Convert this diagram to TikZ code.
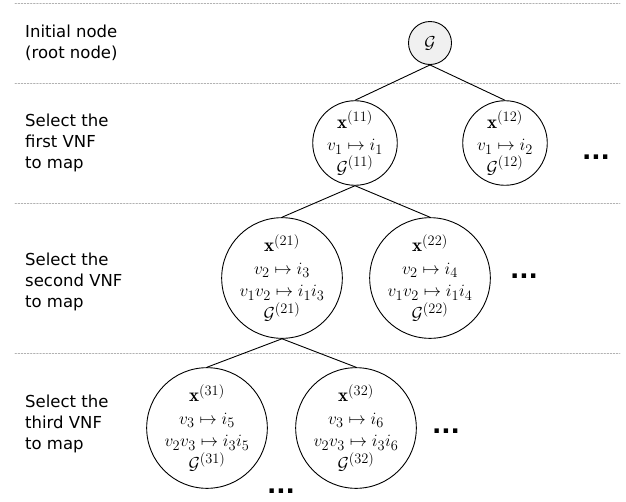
\documentclass[tikz,border=0pt]{standalone}
\usepackage{fontspec}
\newfontfamily\labelfont{DejaVu Sans}
\begin{document}
\begin{tikzpicture}[x=1pt,y=-1pt,line cap=round,
    level/.style={font=\labelfont\fontsize{16.5}{21}\selectfont,align=left,anchor=west,inner sep=0pt},
    state/.style={draw,circle,line width=0.9pt,inner sep=0pt,align=center,font=\fontsize{19}{22.5}\selectfont},
    more/.style={font=\labelfont\bfseries\fontsize{24.5}{24.5}\selectfont,inner sep=0pt},
    sep/.style={gray!60,line width=0.8pt,dash pattern=on 1.5pt off 1.6pt},
    branch/.style={line width=0.9pt}]
    \useasboundingbox (0,0) rectangle (626,501);

    % draw the level separators
    \foreach \y in {3,83,203,353}
        \draw[sep] (15,\y) -- (620,\y);

    % level texts
    \node[level] (lev0) at (25,43) {Initial node\\(root node)};
    \node[level] (lev1) at (25,143) {Select the\\first VNF\\to map};
    \node[level] (lev2) at (25,282) {Select the\\second VNF\\to map};
    \node[level] (lev3) at (25,424) {Select the\\third VNF\\to map};

    % root node
    \node[state,fill=gray!12,minimum size=43pt] (root) at (430,43) {$\mathcal{G}$};

    % first VNF
    \node[state,minimum size=84pt] (n11) at (355,143)
        {$\mathbf{x}^{(11)}$\\$v_1\mapsto i_1$\\$\mathcal{G}^{(11)}$};
    \node[state,minimum size=84pt] (n12) at (505,143)
        {$\mathbf{x}^{(12)}$\\$v_1\mapsto i_2$\\$\mathcal{G}^{(12)}$};
    \node[more] (more1) at (596,157) {...};

    % second VNF
    \node[state,minimum size=112pt] (n21) at (282,278)
        {$\mathbf{x}^{(21)}$\\$v_2\mapsto i_3$\\$v_1v_2\mapsto i_1i_3$\\$\mathcal{G}^{(21)}$};
    \node[state,minimum size=112pt] (n22) at (430,278)
        {$\mathbf{x}^{(22)}$\\$v_2\mapsto i_4$\\$v_1v_2\mapsto i_1i_4$\\$\mathcal{G}^{(22)}$};
    \node[more] (more2) at (524,276) {...};

    % third VNF
    \node[state,minimum size=112pt] (n31) at (207,428)
        {$\mathbf{x}^{(31)}$\\$v_3\mapsto i_5$\\$v_2v_3\mapsto i_3i_5$\\$\mathcal{G}^{(31)}$};
    \node[state,minimum size=112pt] (n32) at (356,428)
        {$\mathbf{x}^{(32)}$\\$v_3\mapsto i_6$\\$v_2v_3\mapsto i_3i_6$\\$\mathcal{G}^{(32)}$};
    \node[more] (more3) at (446,431) {...};
    \node[more] (more4) at (281,491) {...};

    % branches
    \draw[branch] (root.south) -- (n11.north);
    \draw[branch] (root.south) -- (n12.north);
    \draw[branch] (n11.south) -- (n21.north);
    \draw[branch] (n11.south) -- (n22.north);
    \draw[branch] (n21.south) -- (n31.north);
    \draw[branch] (n21.south) -- (n32.north);
\end{tikzpicture}
\end{document}
